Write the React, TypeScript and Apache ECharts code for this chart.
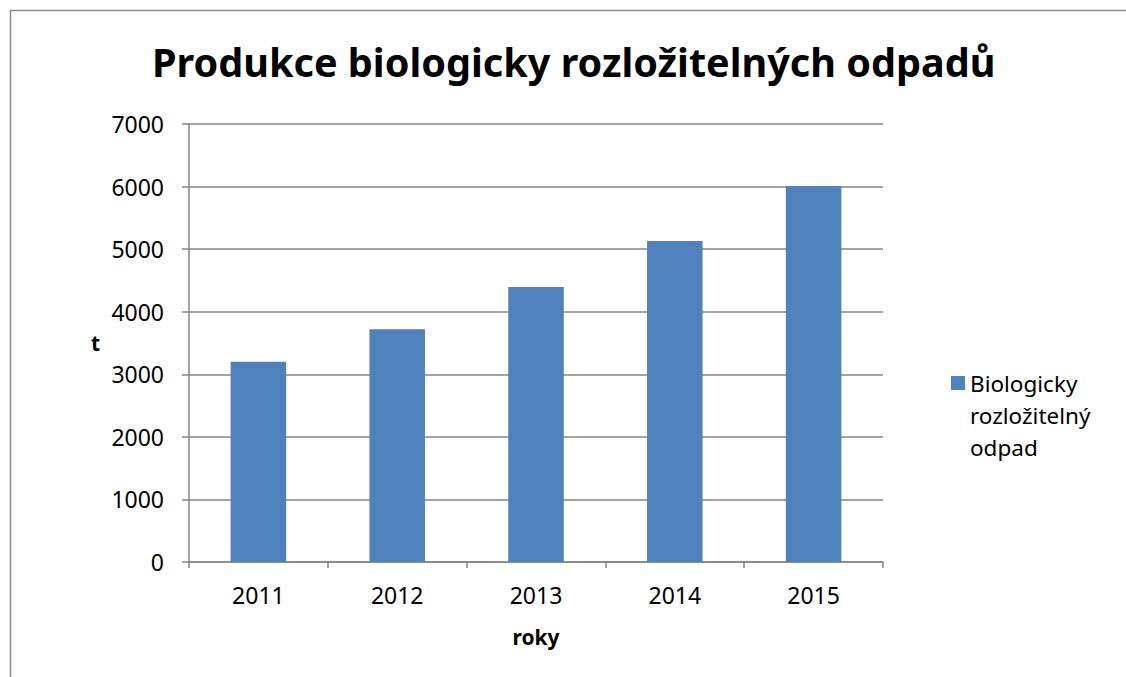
import React, { useEffect, useRef } from "react";
import * as echarts from "echarts";

const categories = ["2011", "2012", "2013", "2014", "2015"];
const values = [3200, 3720, 4395, 5130, 6010];
const seriesName = "Biologicky\nrozložitelný\nodpad";
const titleText = "Produkce biologicky rozložitelných odpadů";

const FONT = "'Noto Sans', sans-serif";

export default function App() {
  const ref = useRef<HTMLDivElement>(null);
  useEffect(() => {
    if (!ref.current) return;
    const chart = echarts.init(ref.current, null, { renderer: "svg" });
    chart.setOption({
      animation: false,
      backgroundColor: "#ffffff",
      textStyle: { fontFamily: FONT },
      title: {
        text: titleText,
        left: 152,
        top: 42,
        padding: 0,
        textStyle: { fontFamily: FONT, fontSize: 39.6, fontWeight: "bold", color: "#000" },
      },
      graphic: [
        {
          type: "rect",
          shape: { x: 10.5, y: 10.5, width: 1200, height: 800 },
          style: { fill: "none", stroke: "#8c8c8c", lineWidth: 1.5 },
          silent: true,
          z: -1,
        },
      ],
      legend: {
        left: 946,
        top: 298,
        orient: "vertical",
        itemWidth: 14,
        itemHeight: 14,
        icon: "rect",
        formatter: (name: string) => " \n \n" + name,
        textStyle: {
          fontFamily: FONT,
          fontSize: 22.5,
          color: "#000",
          lineHeight: 32,
        },
      },
      grid: { left: 189, right: 243, top: 124, bottom: 115, containLabel: false },
      xAxis: {
        type: "category",
        data: categories,
        name: "roky",
        nameLocation: "middle",
        nameGap: 64,
        nameTextStyle: { fontFamily: FONT, fontSize: 21, fontWeight: "bold", color: "#000" },
        axisLine: { lineStyle: { color: "#868686", width: 1.5 } },
        axisTick: { show: true, length: 6, alignWithLabel: false, lineStyle: { color: "#868686", width: 1.5 } },
        axisLabel: { fontFamily: FONT, fontSize: 23, color: "#000", margin: 21 },
      },
      yAxis: {
        type: "value",
        min: 0,
        max: 7000,
        interval: 1000,
        name: "t",
        nameLocation: "middle",
        nameRotate: 0,
        nameGap: 89,
        nameTextStyle: { fontFamily: FONT, fontSize: 21, fontWeight: "bold", color: "#000" },
        axisLine: { show: true, lineStyle: { color: "#868686", width: 1.5 } },
        axisTick: { show: true, length: 7, lineStyle: { color: "#868686", width: 1.5 } },
        axisLabel: {
          fontFamily: FONT,
          fontSize: 23,
          color: "#000",
          margin: 25,
          formatter: (v: number) => String(v),
        },
        splitLine: { lineStyle: { color: "#868686", width: 1.5 } },
      },
      series: [
        {
          type: "bar",
          name: seriesName,
          data: values,
          barCategoryGap: "60%",
          itemStyle: { color: "#4F81BD" },
        },
      ],
    });
    return () => chart.dispose();
  }, []);
  return (
    <div
      ref={ref}
      style={{ position: "fixed", left: 0, top: 0, width: 1126, height: 677 }}
    />
  );
}
